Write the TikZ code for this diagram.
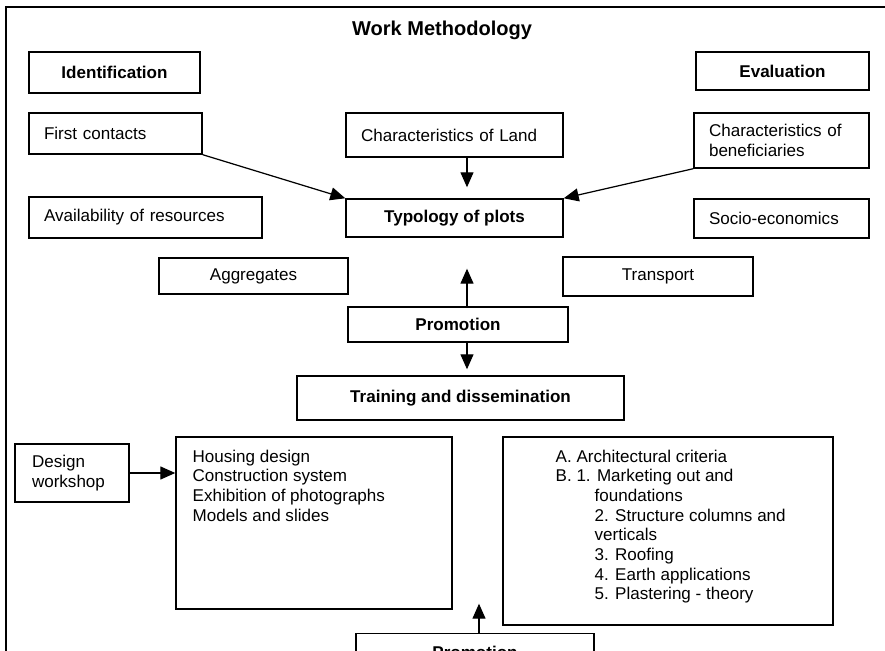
\documentclass[tikz,border=0pt]{standalone}
\usepackage{fontspec}
\setmainfont{Liberation Sans}
\usetikzlibrary{arrows.meta, calc}
\tikzset{%
    box/.style={draw, line width=0.8pt, inner sep=0pt, font=\fontsize{9.7}{11.2}\selectfont},
    boxl/.style={box, inner xsep=0.3cm, align=left},
    boxb/.style={box, align=center, font=\fontsize{9.7}{11.2}\selectfont\bfseries},
    lst/.style={inner sep=0pt, align=left, anchor=north west, font=\fontsize{9.7}{11.2}\selectfont},
    pria/.style={line width=0.7pt, -{Triangle[length=0.3cm, width=0.26cm]}},
}
\begin{document}
\begin{tikzpicture}[x=0.02cm, y=-0.02cm]
    \useasboundingbox (0,0) rectangle (885,651);
    \clip (0,0) rectangle (885,651);
    \draw [line width=0.9pt] (6,7) rectangle (900,700);
    \node [font=\fontsize{11.4}{13}\selectfont\bfseries] (title) at (442,30) {Work Methodology};
    \node [boxb, minimum width=3.42cm, minimum height=0.82cm] (ident) at (114.5,72.5) {Identification};
    \node [boxb, minimum width=3.46cm, minimum height=0.76cm] (eval) at (782.5,71) {Evaluation};
    \node [boxl, text width=2.86cm, minimum height=0.82cm] (first) at (115.5,133.5) {First contacts};
    \node [boxl, text width=3.74cm, minimum height=0.88cm] (land) at (454.5,135) {Characteristics of Land};
    \node [boxl, text width=2.90cm, minimum height=1.10cm] (benef) at (781.5,140.5) {Characteristics of\\beneficiaries};
    \node [boxl, text width=4.06cm, minimum height=0.82cm] (avail) at (145.5,217.5) {Availability of resources};
    \node [boxb, minimum width=4.34cm, minimum height=0.76cm] (typo) at (454.5,218) {Typology of plots};
    \node [boxl, text width=2.90cm, minimum height=0.78cm] (socio) at (781.5,218.5) {Socio-economics};
    \node [box, minimum width=3.78cm, minimum height=0.72cm] (aggr) at (253.5,276) {Aggregates};
    \node [box, minimum width=3.80cm, minimum height=0.78cm] (transp) at (658,276.5) {Transport};
    \node [boxb, minimum width=4.40cm, minimum height=0.70cm] (promo) at (458,324.5) {Promotion};
    \node [boxb, minimum width=6.54cm, minimum height=0.88cm] (train) at (460.5,398) {Training and dissemination};
    \node [boxl, inner xsep=0.34cm, text width=1.60cm, minimum height=1.16cm] (design) at (72,473) {Design\\workshop};
    \node [box, minimum width=5.52cm, minimum height=3.44cm] (house) at (314,523) {};
    \node [lst] (houselist) at ([xshift=0.34cm, yshift=-0.26cm]house.north west) {Housing design\\Construction system\\Exhibition of photographs\\Models and slides};
    \node [box, minimum width=6.60cm, minimum height=3.76cm] (crit) at (668,531) {};
    \node [lst] (critlist) at ([xshift=1.06cm, yshift=-0.26cm]crit.north west) {A. Architectural criteria\\B. 1. Marketing out and\\\hspace*{0.78cm}foundations\\\hspace*{0.78cm}2. Structure columns and\\\hspace*{0.78cm}verticals\\\hspace*{0.78cm}3. Roofing\\\hspace*{0.78cm}4. Earth applications\\\hspace*{0.78cm}5. Plastering - theory};
    \node [boxb, minimum width=4.76cm, minimum height=0.74cm] (promob) at (475,652) {Promotion};
    \coordinate (ax) at (467,0);
    \coordinate (bx) at (479,0);
    \draw [pria] (first.south east) -- (typo.north west);
    \draw [pria] (benef.south west) -- (typo.north east);
    \draw [pria, shorten >=0.22cm] (land.south -| ax) -- (typo.north -| ax);
    \draw [pria, shorten >=0.62cm] (promo.north -| ax) -- (typo.south -| ax);
    \draw [pria, shorten >=0.12cm] (promo.south -| ax) -- (train.north -| ax);
    \draw [pria] (design.east) -- (design.east -| house.west);
    \draw [pria, shorten >=-0.12cm] (promob.north -| bx) -- (house.south -| bx);
\end{tikzpicture}
\end{document}
